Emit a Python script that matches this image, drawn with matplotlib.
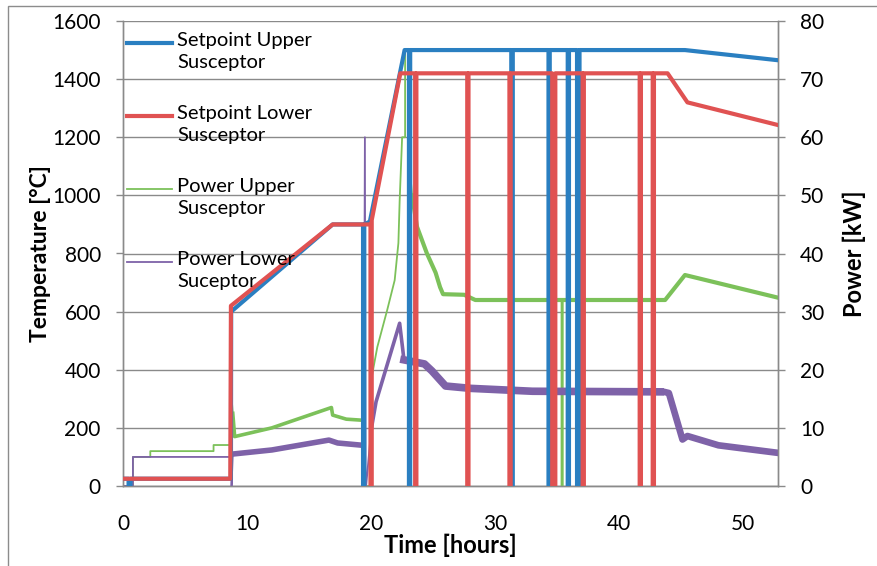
import matplotlib
matplotlib.use('Agg')
import matplotlib.pyplot as plt
import numpy as np
from matplotlib.patches import Rectangle

plt.rcParams['font.family'] = ['Lato', 'DejaVu Sans']

# -------------------------------------------------------------------------
# Data (time in hours)
# -------------------------------------------------------------------------
# Setpoint Upper Susceptor [degC]
sp_upper_t = [0, 0.45, 0.45, 0.6, 0.6, 8.7, 8.72, 16.9, 19.35, 19.35, 19.45, 19.45,
              19.9, 22.7, 23.05, 23.05, 23.15, 23.15, 31.3, 31.3, 31.42, 31.42,
              34.3, 34.3, 34.4, 34.4, 35.85, 35.85, 35.95, 35.95, 36.6, 36.6,
              36.8, 36.8, 45.3, 52.8]
sp_upper_v = [25, 25, 0, 0, 25, 25, 600, 900, 900, 0, 0, 900,
              910, 1500, 1500, 0, 0, 1500, 1500, 0, 0, 1500,
              1500, 0, 0, 1500, 1500, 0, 0, 1500, 1500, 0,
              0, 1500, 1500, 1465]

# Setpoint Lower Susceptor [degC]
sp_lower_t = [0, 8.65, 8.7, 16.9, 19.95, 19.95, 20.05, 20.05, 22.35, 23.55, 23.55,
              23.65, 23.65, 27.75, 27.75, 27.85, 27.85, 31.15, 31.15, 31.25, 31.25,
              34.6, 34.6, 34.85, 34.85, 37.05, 37.05, 37.15, 37.15, 41.65, 41.65,
              41.75, 41.75, 42.7, 42.7, 42.8, 42.8, 43.9, 45.5, 52.8]
sp_lower_v = [25, 25, 620, 900, 900, 0, 0, 915, 1420, 1420, 0,
              0, 1420, 1420, 0, 0, 1420, 1420, 0, 0, 1420,
              1420, 0, 0, 1420, 1420, 0, 0, 1420, 1420, 0,
              0, 1420, 1420, 0, 0, 1420, 1420, 1320, 1242]

# Power Upper Susceptor [kW]
pw_upper_t = [0, 0.8, 0.8, 2.2, 2.2, 7.3, 7.3, 8.75, 8.75, 8.85, 9.0, 12.0,
              16.8, 16.9, 18.0, 19.4, 19.45, 19.95, 20.0, 20.5, 21.3, 21.9,
              22.2, 22.3, 22.5, 22.74, 22.74, 23.15, 23.15, 23.3, 23.7, 24.5,
              25.2, 25.56, 25.8, 27.5, 28.4, 35.35, 35.35, 35.45, 35.45, 36.65,
              36.65, 36.75, 36.75, 43.7, 45.3, 52.8]
pw_upper_v = [0, 0, 5, 5, 6, 6, 7.05, 7.05, 15.3, 12.5, 8.5, 10.0,
              13.5, 12.2, 11.5, 11.3, 0, 0, 18.2, 23.9, 30.3, 35.4,
              41.8, 49, 60, 60, 75, 75, 54, 50, 44.6, 40,
              36.7, 34.2, 33.0, 32.9, 32.0, 32.0, 0, 0, 32.0, 32.0,
              0, 0, 32.0, 32.0, 36.3, 32.4]
# (start, end, line width) of the stretches where the trace is a noisy band
pw_upper_noisy = [(8.85, 19.4, 2.6), (23.3, 52.8, 3.0)]

# Power Lower Suceptor [kW]
pw_lower_t = [0, 0.8, 0.8, 8.75, 8.75, 8.85, 12.0, 16.6, 17.3, 19.35, 19.4,
              19.5, 19.55, 19.6, 20.0, 20.4, 22.3, 22.65, 24.3, 24.9, 26.0,
              28.0, 33.0, 43.3, 43.8, 44.0, 45.1, 45.5, 48.0, 52.8]
pw_lower_v = [0, 0, 5.0, 5.0, 0, 5.5, 6.2, 7.9, 7.4, 7.0, 0,
              60, 0, 0, 9.6, 14.5, 28.0, 21.7, 21.0, 19.8, 17.2,
              16.8, 16.3, 16.2, 16.1, 16.0, 8.0, 8.6, 7.0, 5.7]
pw_lower_noisy = [(8.85, 19.35, 4.0), (20.0, 22.65, 2.6), (22.65, 43.3, 5.5),
                  (43.8, 52.8, 4.8)]

legend_labels = ["Setpoint Upper\nSusceptor", "Setpoint Lower\nSusceptor",
                 "Power Upper\nSusceptor", "Power Lower\nSuceptor"]

# -------------------------------------------------------------------------
# Styles
# -------------------------------------------------------------------------
c_blue = "#2a7fc1"
c_red = "#e05252"
c_green = "#7cc15a"
c_purple = "#7e62a8"
c_grid = "#8a8a8a"

W, H = 877, 566
fig = plt.figure(figsize=(W / 100, H / 100), dpi=100)
fig.patches.append(Rectangle((8 / W, -0.1), 1.2, (H - 6) / H + 0.1,
                             transform=fig.transFigure, fill=False,
                             ec="#8c8c8c", lw=1.0))

rect = [123 / W, (H - 486) / H, 655 / W, 465 / H]
ax_p = fig.add_axes(rect)          # power axis (drawn underneath)
ax_t = ax_p.twinx()                # temperature axis (on top)
ax_t.set_position(rect)
ax_t.patch.set_visible(False)

# power series: thin trace, thick overlay on the noisy stretches
pu_t, pu_v = np.array(pw_upper_t), np.array(pw_upper_v)
pl_t, pl_v = np.array(pw_lower_t), np.array(pw_lower_v)
ax_p.plot(pu_t, pu_v, color=c_green, lw=1.3, zorder=3)
for a, b, lw in pw_upper_noisy:
    m = (pu_t >= a) & (pu_t <= b) & (pu_v > 0)
    ax_p.plot(pu_t[m], pu_v[m], color=c_green, lw=lw, zorder=3,
              solid_joinstyle="round")
ax_p.plot(pl_t, pl_v, color=c_purple, lw=1.3, zorder=4)
for a, b, lw in pw_lower_noisy:
    m = (pl_t >= a) & (pl_t <= b) & (pl_v > 0)
    ax_p.plot(pl_t[m], pl_v[m], color=c_purple, lw=lw, zorder=4,
              solid_joinstyle="round")

# setpoint series
ax_t.plot(sp_upper_t, sp_upper_v, color=c_blue, lw=3.0, zorder=3)
ax_t.plot(sp_lower_t, sp_lower_v, color=c_red, lw=3.0, zorder=4)

# axes
ax_p.set_xlim(0, 52.8)
ax_p.set_ylim(0, 80)
ax_t.set_ylim(0, 1600)
ax_p.set_xticks(np.arange(0, 51, 10))
ax_p.set_yticks(np.arange(0, 81, 10))
ax_t.set_yticks(np.arange(0, 1601, 200))
ax_p.yaxis.tick_right()
ax_p.yaxis.set_label_position("right")
ax_t.yaxis.tick_left()
ax_t.yaxis.set_label_position("left")

ax_p.grid(axis="y", color=c_grid, lw=1.0, zorder=0)
ax_p.set_axisbelow(True)

for ax in (ax_p, ax_t):
    for s in ax.spines.values():
        s.set_color(c_grid)
        s.set_linewidth(1.0)
    ax.spines["top"].set_visible(False)

ax_p.tick_params(axis="x", length=0, pad=20, labelsize=15)
ax_p.tick_params(axis="y", direction="out", length=5, color=c_grid, width=1,
                 pad=11, labelsize=15)
ax_t.tick_params(axis="y", direction="out", length=5, color=c_grid, width=1,
                 pad=11, labelsize=15)
ax_t.tick_params(axis="x", length=0)

ax_p.set_xlabel("Time [hours]", fontsize=17, fontweight="bold", labelpad=0)
ax_p.set_ylabel("Power [kW]", fontsize=17, fontweight="bold", labelpad=13,
                rotation=90)
ax_t.set_ylabel("Temperature [°C]", fontsize=16.5, fontweight="bold", labelpad=1)

# legend (Excel style: handle aligned with first line of label)
leg_colors = [c_blue, c_red, c_green, c_purple]
leg_widths = [3.0, 3.0, 1.3, 1.3]
for i, (lab, col, lw) in enumerate(zip(legend_labels, leg_colors, leg_widths)):
    y0 = 1 - (22 + 73 * i) / 465
    ax_t.plot([4 / 655, 49 / 655], [y0, y0], transform=ax_t.transAxes,
              color=col, lw=lw, clip_on=False, zorder=6)
    ax_t.text(54 / 655, y0 + 11 / 465, lab, transform=ax_t.transAxes,
              fontsize=14.5, va="top", ha="left", linespacing=1.35, zorder=6)

fig.savefig("out.png", dpi=100)
